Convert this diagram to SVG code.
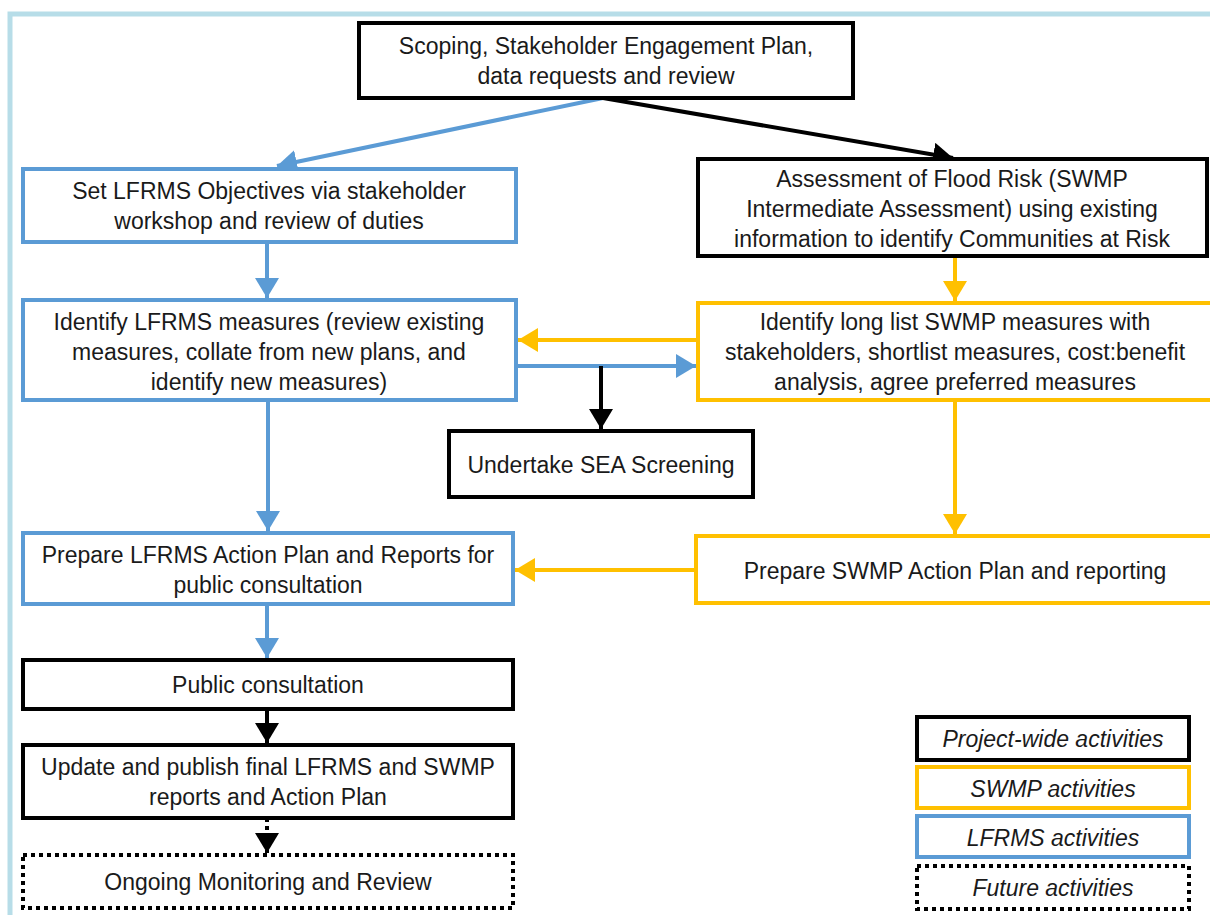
<svg xmlns="http://www.w3.org/2000/svg" width="1210" height="915" viewBox="0 0 1210 915">
<defs>
<style>
.t{font-family:"Liberation Sans",Arial,sans-serif;font-size:23px;fill:#1a1a1a;text-anchor:middle}
.i{font-style:italic}
.k{fill:#fff;stroke:#000;stroke-width:4}
.b{fill:#fff;stroke:#5b9bd5;stroke-width:4}
.y{fill:#fff;stroke:#ffc000;stroke-width:4}
.d{fill:#fff;stroke:#000;stroke-width:4;stroke-dasharray:4 4}
.ck{stroke:#000;stroke-width:4;fill:none}
.cb{stroke:#5b9bd5;stroke-width:4;fill:none}
.cy{stroke:#ffc000;stroke-width:4;fill:none}
</style>
<marker id="ak" markerWidth="6" markerHeight="6" refX="5" refY="3" orient="auto" markerUnits="strokeWidth"><path d="M0,0 L5,3 L0,6 z" fill="#000"/></marker>
<marker id="ab" markerWidth="6" markerHeight="6" refX="5" refY="3" orient="auto" markerUnits="strokeWidth"><path d="M0,0 L5,3 L0,6 z" fill="#5b9bd5"/></marker>
<marker id="ay" markerWidth="6" markerHeight="6" refX="5" refY="3" orient="auto" markerUnits="strokeWidth"><path d="M0,0 L5,3 L0,6 z" fill="#ffc000"/></marker>
</defs>
<rect width="1210" height="915" fill="#fff"/>
<path d="M10,930 L10,14 L1225,14" fill="none" stroke="#b7dde8" stroke-width="5"/>
<g id="connectors">
<line class="cb" x1="603" y1="98" x2="277" y2="166" marker-end="url(#ab)"/>
<line class="ck" x1="603" y1="98" x2="953" y2="158" marker-end="url(#ak)"/>
<line class="cb" x1="267" y1="242" x2="267" y2="298" marker-end="url(#ab)"/>
<line class="cy" x1="955" y1="256" x2="955" y2="301" marker-end="url(#ay)"/>
<line class="cy" x1="698" y1="340" x2="518" y2="340" marker-end="url(#ay)"/>
<line class="cb" x1="516" y1="366" x2="696" y2="366" marker-end="url(#ab)"/>
<line class="ck" x1="601" y1="366" x2="601" y2="429" marker-end="url(#ak)"/>
<line class="cb" x1="268" y1="400" x2="268" y2="531" marker-end="url(#ab)"/>
<line class="cy" x1="955" y1="400" x2="955" y2="534" marker-end="url(#ay)"/>
<line class="cy" x1="696" y1="570" x2="515" y2="570" marker-end="url(#ay)"/>
<line class="cb" x1="267" y1="604" x2="267" y2="658" marker-end="url(#ab)"/>
<line class="ck" x1="267" y1="709" x2="267" y2="743" marker-end="url(#ak)"/>
<line class="ck" x1="267" y1="818" x2="267" y2="853" stroke-dasharray="4 4" marker-end="url(#ak)"/>
</g>
<g id="n1"><rect class="k" x="359" y="23" width="494" height="75"/><text class="t" x="606" y="54">Scoping, Stakeholder Engagement Plan,</text><text class="t" x="606" y="84">data requests and review</text></g>
<g id="n2"><rect class="b" x="23" y="169" width="493" height="73"/><text class="t" x="269" y="199">Set LFRMS Objectives via stakeholder</text><text class="t" x="269" y="229">workshop and review of duties</text></g>
<g id="n3"><rect class="k" x="698" y="159" width="509" height="97"/><text class="t" x="952" y="187">Assessment of Flood Risk (SWMP</text><text class="t" x="952" y="217">Intermediate Assessment) using existing</text><text class="t" x="952" y="247">information to identify Communities at Risk</text></g>
<g id="n4"><rect class="b" x="23" y="300" width="493" height="100"/><text class="t" x="269" y="330">Identify LFRMS measures (review existing</text><text class="t" x="269" y="360">measures, collate from new plans, and</text><text class="t" x="269" y="390">identify new measures)</text></g>
<g id="n5"><rect class="y" x="698" y="303" width="514" height="97"/><text class="t" x="955" y="330">Identify long list SWMP measures with</text><text class="t" x="955" y="360">stakeholders, shortlist measures, cost:benefit</text><text class="t" x="955" y="390">analysis, agree preferred measures</text></g>
<g id="n6"><rect class="k" x="449" y="431" width="304" height="66"/><text class="t" x="601" y="473">Undertake SEA Screening</text></g>
<g id="n7"><rect class="b" x="23" y="533" width="490" height="71"/><text class="t" x="268" y="563">Prepare LFRMS Action Plan and Reports for</text><text class="t" x="268" y="593">public consultation</text></g>
<g id="n8"><rect class="y" x="696" y="536" width="516" height="67"/><text class="t" x="955" y="579">Prepare SWMP Action Plan and reporting</text></g>
<g id="n9"><rect class="k" x="23" y="660" width="490" height="49"/><text class="t" x="268" y="693">Public consultation</text></g>
<g id="n10"><rect class="k" x="23" y="745" width="490" height="73"/><text class="t" x="268" y="775">Update and publish final LFRMS and SWMP</text><text class="t" x="268" y="805">reports and Action Plan</text></g>
<g id="n11"><rect class="d" x="23" y="855" width="490" height="53"/><text class="t" x="268" y="890">Ongoing Monitoring and Review</text></g>
<g id="legend">
<g id="l1"><rect class="k" x="917" y="717" width="272" height="43"/><text class="t i" x="1053" y="747">Project-wide activities</text></g>
<g id="l2"><rect class="y" x="917" y="767" width="272" height="41"/><text class="t i" x="1053" y="797">SWMP activities</text></g>
<g id="l3"><rect class="b" x="917" y="816" width="272" height="41"/><text class="t i" x="1053" y="846">LFRMS activities</text></g>
<g id="l4"><rect class="d" x="917" y="866" width="272" height="43"/><text class="t i" x="1053" y="896">Future activities</text></g>
</g>
</svg>
